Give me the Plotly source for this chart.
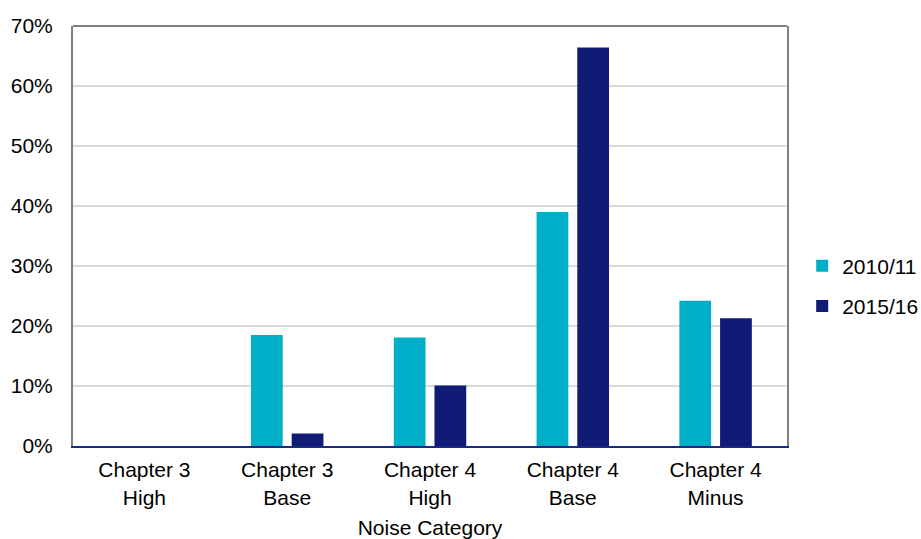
import plotly.graph_objects as go

categories = ["Chapter 3<br>High", "Chapter 3<br>Base", "Chapter 4<br>High", "Chapter 4<br>Base", "Chapter 4<br>Minus"]
series_2010 = [0.0, 18.5, 18.1, 39.0, 24.2]
series_2015 = [0.0, 2.1, 10.1, 66.4, 21.3]
y_ticks = [0, 10, 20, 30, 40, 50, 60, 70]
y_tick_labels = [f"{v}%" for v in y_ticks]

FONT = "Liberation Sans, Arial, sans-serif"
CYAN = "#00AFC7"
NAVY = "#0F1B74"

fig = go.Figure()
fig.add_trace(go.Bar(x=categories, y=series_2010, name="2010/11", legendgroup="a",
                     marker=dict(color=CYAN, line=dict(width=0))))
fig.add_trace(go.Bar(x=categories, y=series_2015, name="2015/16", legendgroup="b",
                     marker=dict(color=NAVY, line=dict(width=0))))

fig.update_layout(
    width=921, height=539,
    margin=dict(l=73, r=134, t=26, b=93),
    paper_bgcolor="white", plot_bgcolor="white",
    font=dict(family=FONT, size=21, color="black"),
    barmode="group", bargap=0.43, bargroupgap=0.22,
    showlegend=True,
    legend=dict(xref="container", x=0.871, y=0.381, xanchor="left", yanchor="middle",
                traceorder="grouped", tracegroupgap=10,
                font=dict(size=21), itemwidth=30),
    xaxis=dict(showline=True, linecolor="#1A2A80", linewidth=2, automargin=False,
               showgrid=False, ticks="", ticklabelstandoff=4,
               title=dict(text="Noise Category", standoff=19, font=dict(size=21))),
    yaxis=dict(range=[0, 70], tickvals=y_ticks, ticktext=y_tick_labels, automargin=False,
               showline=True, linecolor="#808080", linewidth=2, mirror=True,
               showgrid=True, gridcolor="#D9D9D9", gridwidth=1.5,
               zeroline=False, ticks="", ticklabelstandoff=14),
    shapes=[dict(type="line", xref="paper", yref="paper", x0=0, x1=1, y0=1, y1=1,
                 line=dict(color="#808080", width=2))],
)

fig.write_html("out.html", config={"displayModeBar": False},
               post_script="document.body.style.margin='0';")
